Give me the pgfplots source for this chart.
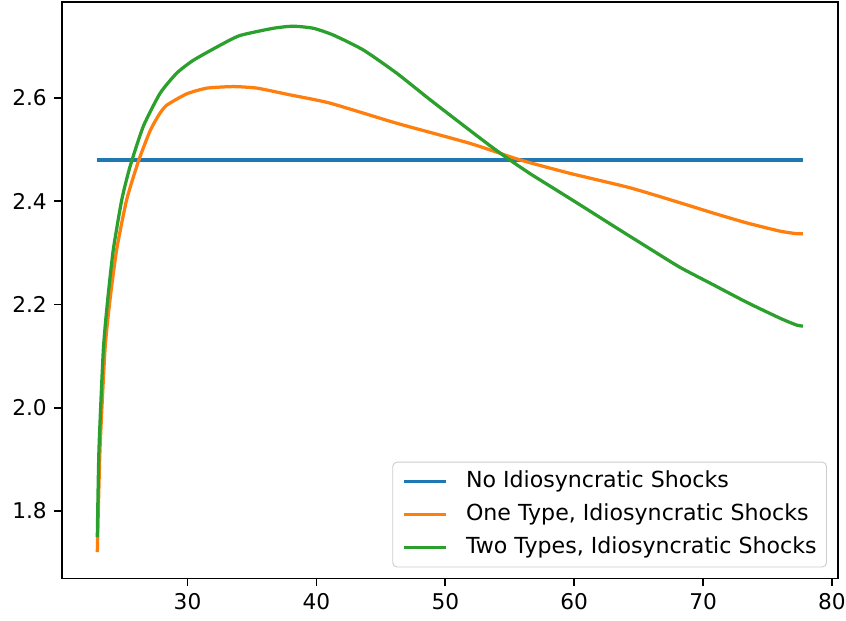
\documentclass[border=0pt]{standalone}
\usepackage{fontspec}
\setmainfont{DejaVu Sans}
\usepackage{pgfplots}
\pgfplotsset{compat=1.18}
\definecolor{cblue}{HTML}{1F77B4}
\definecolor{corange}{HTML}{FF7F0E}
\definecolor{cgreen}{HTML}{2CA02C}
\begin{document}
\begin{tikzpicture}
\begin{axis}[
  scale only axis, width=358pt, height=266pt,
  xmin=20.26, xmax=80.47, ymin=1.669, ymax=2.786,
  xtick={30,40,...,80}, ytick={1.8,2.0,2.2,2.4,2.6},
  yticklabel style={/pgf/number format/.cd,fixed,fixed zerofill,precision=1},
  xticklabel style={inner xsep=0pt},
  /pgf/number format/assume math mode=true,
  tick align=outside, tick pos=left,
  major tick length=3.5pt,
  every tick/.style={black, line width=0.8pt},
  axis line style={black, line width=0.8pt},
  ticklabel style={font=\fontsize{10}{12}\selectfont, text=black},
  legend style={at={(1,0)}, anchor=south east, xshift=-5.1pt, yshift=5.1pt,
    draw=black!20, rounded corners=2pt, font=\fontsize{10.2}{12}\selectfont,
    text=black, inner xsep=4.6pt, inner ysep=4pt, row sep=5.2pt,
    nodes={inner xsep=0pt, inner ysep=0pt, text height=7.6pt, text depth=2.4pt},
    /tikz/every odd column/.append style={column sep=8.3pt},
    cells={anchor=west}},
  legend image code/.code={\draw[#1] (0pt,0pt) -- (19.4pt,0pt);},
  legend cell align=left,
]
\addplot[cblue, line width=1.5pt] coordinates {(23,2.48)(77.75,2.48)};
\addlegendentry{No Idiosyncratic Shocks}
\addplot[corange, line width=1.5pt, line join=round, smooth, tension=0.35] coordinates {
(23.0,1.72)(23.21,1.92)(23.6,2.113)(23.99,2.21)(24.5,2.306)(25.28,2.403)
(26.2,2.478)(27.09,2.536)(27.8,2.568)(28.39,2.586)(29.94,2.608)(31.5,2.619)
(33.55,2.622)(35.4,2.619)(37.95,2.606)(41.05,2.59)(46.23,2.551)(51.92,2.512)
(55.8,2.48)(59.67,2.454)(64.33,2.426)(68.21,2.397)(70.79,2.377)(73.38,2.358)
(75.97,2.342)(77.26,2.337)(77.75,2.337)};
\addlegendentry{One Type, Idiosyncratic Shocks}
\addplot[cgreen, line width=1.5pt, line join=round, smooth, tension=0.35] coordinates {
(23.0,1.749)(23.13,1.92)(23.47,2.113)(23.81,2.21)(24.24,2.306)(24.9,2.403)
(25.54,2.467)(26.57,2.545)(27.87,2.609)(29.16,2.648)(30.45,2.673)(32.52,2.702)
(34.07,2.721)(36.66,2.735)(38.2,2.739)(39.76,2.735)(41.3,2.722)(43.64,2.693)
(46.23,2.648)(48.8,2.597)(51.5,2.545)(53.5,2.507)(55.0,2.480)(56.6,2.453)
(58.4,2.425)(60.45,2.393)(63.3,2.348)(65.8,2.309)(68.2,2.272)(70.8,2.238)
(73.4,2.204)(76.0,2.173)(77.26,2.160)(77.75,2.158)};
\addlegendentry{Two Types, Idiosyncratic Shocks}
\end{axis}
\pgfresetboundingbox
\path[use as bounding box] ([xshift=-28.6pt,yshift=-19.4pt]current axis.south west)
  rectangle ([xshift=3.7pt,yshift=0.9pt]current axis.north east);
\end{tikzpicture}
\end{document}
